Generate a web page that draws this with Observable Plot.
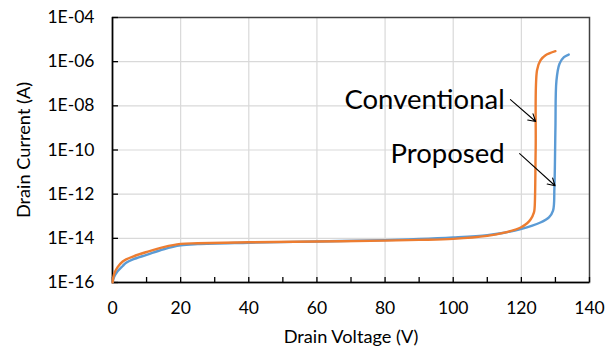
<!DOCTYPE html>
<html>
<head>
<meta charset="utf-8">
<script src="https://cdn.jsdelivr.net/npm/d3@7"></script>
<script src="https://cdn.jsdelivr.net/npm/@observablehq/plot@0.6"></script>
<style>
  html, body { margin: 0; padding: 0; background: #fff; }
  #chart { width: 605px; height: 346px; }
</style>
</head>
<body>
<div id="chart"></div>
<script>
// Conventional (orange)
const convV = [0, 0.5, 1.5, 3, 4, 6, 10, 15, 20, 25, 40, 60, 80, 90, 100, 110, 115, 119.8, 121.7, 122.7, 123.7, 123.9, 124.2, 124.6, 125.6, 127.1, 130];
const convI = [1e-16, 2.5e-16, 5e-16, 8.9e-16, 1.12e-15, 1.5e-15, 2.4e-15, 4e-15, 5.6e-15, 6e-15, 6.6e-15, 7.2e-15, 7.9e-15, 8.5e-15, 9.5e-15, 1.3e-14, 1.8e-14, 3.1e-14, 4.8e-14, 7.1e-14, 1.5e-13, 2.5e-13, 1e-10, 4.1e-7, 1.15e-6, 1.95e-6, 3e-6];
// Proposed (blue)
const propV = [0, 0.5, 1.5, 3, 4, 6, 10, 15, 20, 25, 40, 60, 80, 90, 100, 110, 115, 119.8, 125.6, 128.1, 129.3, 129.7, 130.0, 130.3, 131.2, 132.5, 133.9];
const propI = [1e-16, 1.8e-16, 3.2e-16, 5.6e-16, 7.9e-16, 1.12e-15, 1.78e-15, 3.2e-15, 4.8e-15, 5.5e-15, 6.3e-15, 7.2e-15, 8.3e-15, 9.3e-15, 1.1e-14, 1.4e-14, 1.8e-14, 2.6e-14, 5.2e-14, 8.9e-14, 1.8e-13, 2e-12, 1e-9, 1.4e-7, 8.1e-7, 1.6e-6, 2.1e-6];

const xTicks = [0, 20, 40, 60, 80, 100, 120, 140];
const xMinorTicks = [0, 10, 20, 30, 40, 50, 60, 70, 80, 90, 100, 110, 120, 130, 140];
const yTicks = [1e-16, 1e-14, 1e-12, 1e-10, 1e-8, 1e-6, 1e-4];
const yTickLabels = ["1E-16", "1E-14", "1E-12", "1E-10", "1E-08", "1E-06", "1E-04"];

// Annotations
const noteLabels = ["Conventional", "Proposed"];
const noteTextV = [115.1, 115.1];
const noteTextI = [1.8e-8, 6.3e-11];
const arrowFromV = [116.8, 119.5];
const arrowFromI = [1.9e-8, 6.8e-11];
const arrowToV = [124.2, 129.9];
const arrowToI = [1.95e-9, 2.4e-12];

const conv = convV.map((v, i) => ({v, i: convI[i]}));
const prop = propV.map((v, i) => ({v, i: propI[i]}));
const notes = noteLabels.map((t, k) => ({t, v: noteTextV[k], i: noteTextI[k]}));
const arrows = arrowFromV.map((v, k) => ({x1: v, y1: arrowFromI[k], x2: arrowToV[k], y2: arrowToI[k]}));

const font = "Lato, 'Open Sans', sans-serif";

const plot = Plot.plot({
  width: 605,
  height: 346,
  marginLeft: 112,
  marginRight: 16,
  marginTop: 17,
  marginBottom: 64,
  style: { fontFamily: font, fontSize: "17px", color: "#000", background: "#fff", overflow: "visible" },
  x: { type: "linear", domain: [0, 140] },
  y: { type: "log", domain: [1e-16, 1e-4] },
  marks: [
    Plot.gridX(xTicks.slice(1, -1), { stroke: "#d9d9d9", strokeOpacity: 1, strokeWidth: 1.2 }),
    Plot.gridY(yTicks.slice(1, -1), { stroke: "#d9d9d9", strokeOpacity: 1, strokeWidth: 1.2 }),
    Plot.frame({ stroke: "#404040", strokeWidth: 1.5 }),
    Plot.ruleX([0], { stroke: "#000", strokeWidth: 1.5 }),
    Plot.ruleY([1e-16], { stroke: "#000", strokeWidth: 1.5 }),
    Plot.axisX({ ticks: xMinorTicks, tickSize: -5, tickFormat: () => "", label: null, stroke: "#000", strokeWidth: 1.3 }),
    Plot.axisX({ ticks: xTicks, tickSize: 0, tickPadding: 19, tickFormat: d => String(d), label: null, fontSize: 17.5, fill: "#000" }),
    Plot.axisY({ ticks: yTicks, tickSize: -6, tickFormat: () => "", label: null, stroke: "#000", strokeWidth: 1.3 }),
    Plot.axisY({ ticks: yTicks, tickSize: 0, tickPadding: 18, tickFormat: d => yTickLabels[yTicks.indexOf(d)], label: null, fontSize: 17.5, fill: "#000" }),
    Plot.line(prop, { x: "v", y: "i", stroke: "#5b9bd5", strokeWidth: 2.4, curve: "catmull-rom" }),
    Plot.line(conv, { x: "v", y: "i", stroke: "#ed7d31", strokeWidth: 2.4, curve: "catmull-rom" }),
    Plot.arrow(arrows, { x1: "x1", y1: "y1", x2: "x2", y2: "y2", stroke: "#000", strokeWidth: 1.1, headLength: 11 }),
    Plot.text(notes, { x: "v", y: "i", text: "t", textAnchor: "end", lineAnchor: "middle", fontSize: 27.5, fill: "#000" }),
    Plot.text(["Drain Voltage (V)"], { frameAnchor: "bottom", textAnchor: "middle", lineAnchor: "middle", dy: 55, fontSize: 18.2, fill: "#000" }),
    Plot.text(["Drain Current (A)"], { frameAnchor: "left", textAnchor: "middle", lineAnchor: "middle", rotate: -90, dx: -88, fontSize: 18.2, fill: "#000" })
  ]
});
document.getElementById("chart").appendChild(plot);
</script>
</body>
</html>
